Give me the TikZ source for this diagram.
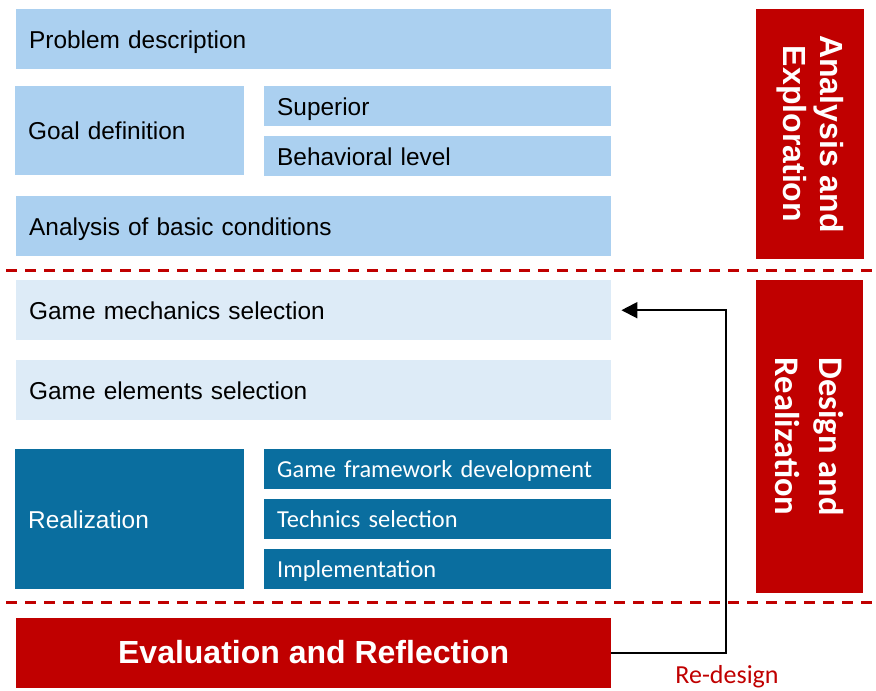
\documentclass[tikz,border=0pt]{standalone}
\usepackage{fontspec}
\setmainfont{Liberation Sans}
\newfontfamily\calibri{Carlito}
\usetikzlibrary{arrows.meta}
\definecolor{lightblue}{HTML}{ABD0F0}
\definecolor{paleblue}{HTML}{DDEBF7}
\definecolor{darkblue}{HTML}{0A6E9F}
\definecolor{phasered}{HTML}{C00000}
\begin{document}
\begin{tikzpicture}[x=1pt, y=-1pt,
  box/.style={rectangle, anchor=north west, inner xsep=13pt, inner ysep=0pt, align=left, text height=17.8pt, text depth=0pt, font=\fontsize{24.4}{29}\selectfont},
  wide/.style={text width=569pt},
  half/.style={text width=203pt},
  side/.style={text width=321pt},
  subtext/.style={text height=16.6pt, font=\calibri\fontsize{24.4}{29}\selectfont},
  phase/.style={rectangle, fill=phasered, text=white, align=center, inner sep=0pt, rotate=-90},
  phaseline/.style={phasered, line width=3pt, dash pattern=on 11pt off 8pt, dash phase=-6pt}]
\useasboundingbox (0,0) rectangle (876,691);
% analysis and exploration
\node[box, wide, fill=lightblue, minimum height=60pt] (prob) at (16,9){Problem description};
\node[box, half, fill=lightblue, minimum height=89pt] (goal) at (15,86){Goal definition};
\node[box, side, fill=lightblue, minimum height=40pt] (sup) at (264,86){Superior};
\node[box, side, fill=lightblue, minimum height=40pt] (beh) at (264,136){Behavioral level};
\node[box, wide, fill=lightblue, minimum height=60pt] (basic) at (16,196){Analysis of basic conditions};
\node[phase, minimum width=250pt, minimum height=108pt, font=\bfseries\fontsize{32}{37}\selectfont] (ana) at (810,134){Analysis and\\Exploration};
\draw[phaseline] (0,270) -- (876,270);
% design and realization
\node[box, wide, fill=paleblue, minimum height=60pt] (mech) at (16,280){Game mechanics selection};
\node[box, wide, fill=paleblue, minimum height=60pt] (elem) at (16,360){Game elements selection};
\node[box, half, fill=darkblue, text=white, minimum height=140pt] (real) at (15,449){Realization};
\node[box, side, subtext, fill=darkblue, text=white, minimum height=40pt] (frame) at (264,449){Game framework development};
\node[box, side, subtext, fill=darkblue, text=white, minimum height=40pt] (tech) at (264,499){Technics selection};
\node[box, side, subtext, fill=darkblue, text=white, minimum height=40pt] (impl) at (264,549){Implementation};
\node[phase, minimum width=313pt, minimum height=107pt, font=\calibri\bfseries\fontsize{34.5}{44}\selectfont] (des) at (809.5,436.5){Design and\\Realization};
\draw[phaseline] (0,602.5) -- (876,602.5);
% evaluation and reflection
\node[rectangle, anchor=north west, fill=phasered, text=white, inner sep=0pt, minimum width=595pt, minimum height=70pt, text height=21pt, text depth=0pt, font=\bfseries\fontsize{32}{37}\selectfont] (eval) at (16,618){Evaluation and Reflection};
\draw[line width=2pt, -{Triangle[length=16pt, width=16pt]}] (eval.east) -- ++(115,0) |- ([xshift=10pt]mech.east);
\node[text=phasered, inner sep=0pt, font=\calibri\fontsize{26}{30}\selectfont] (redesign) at (727,677){Re-design};
\end{tikzpicture}
\end{document}
